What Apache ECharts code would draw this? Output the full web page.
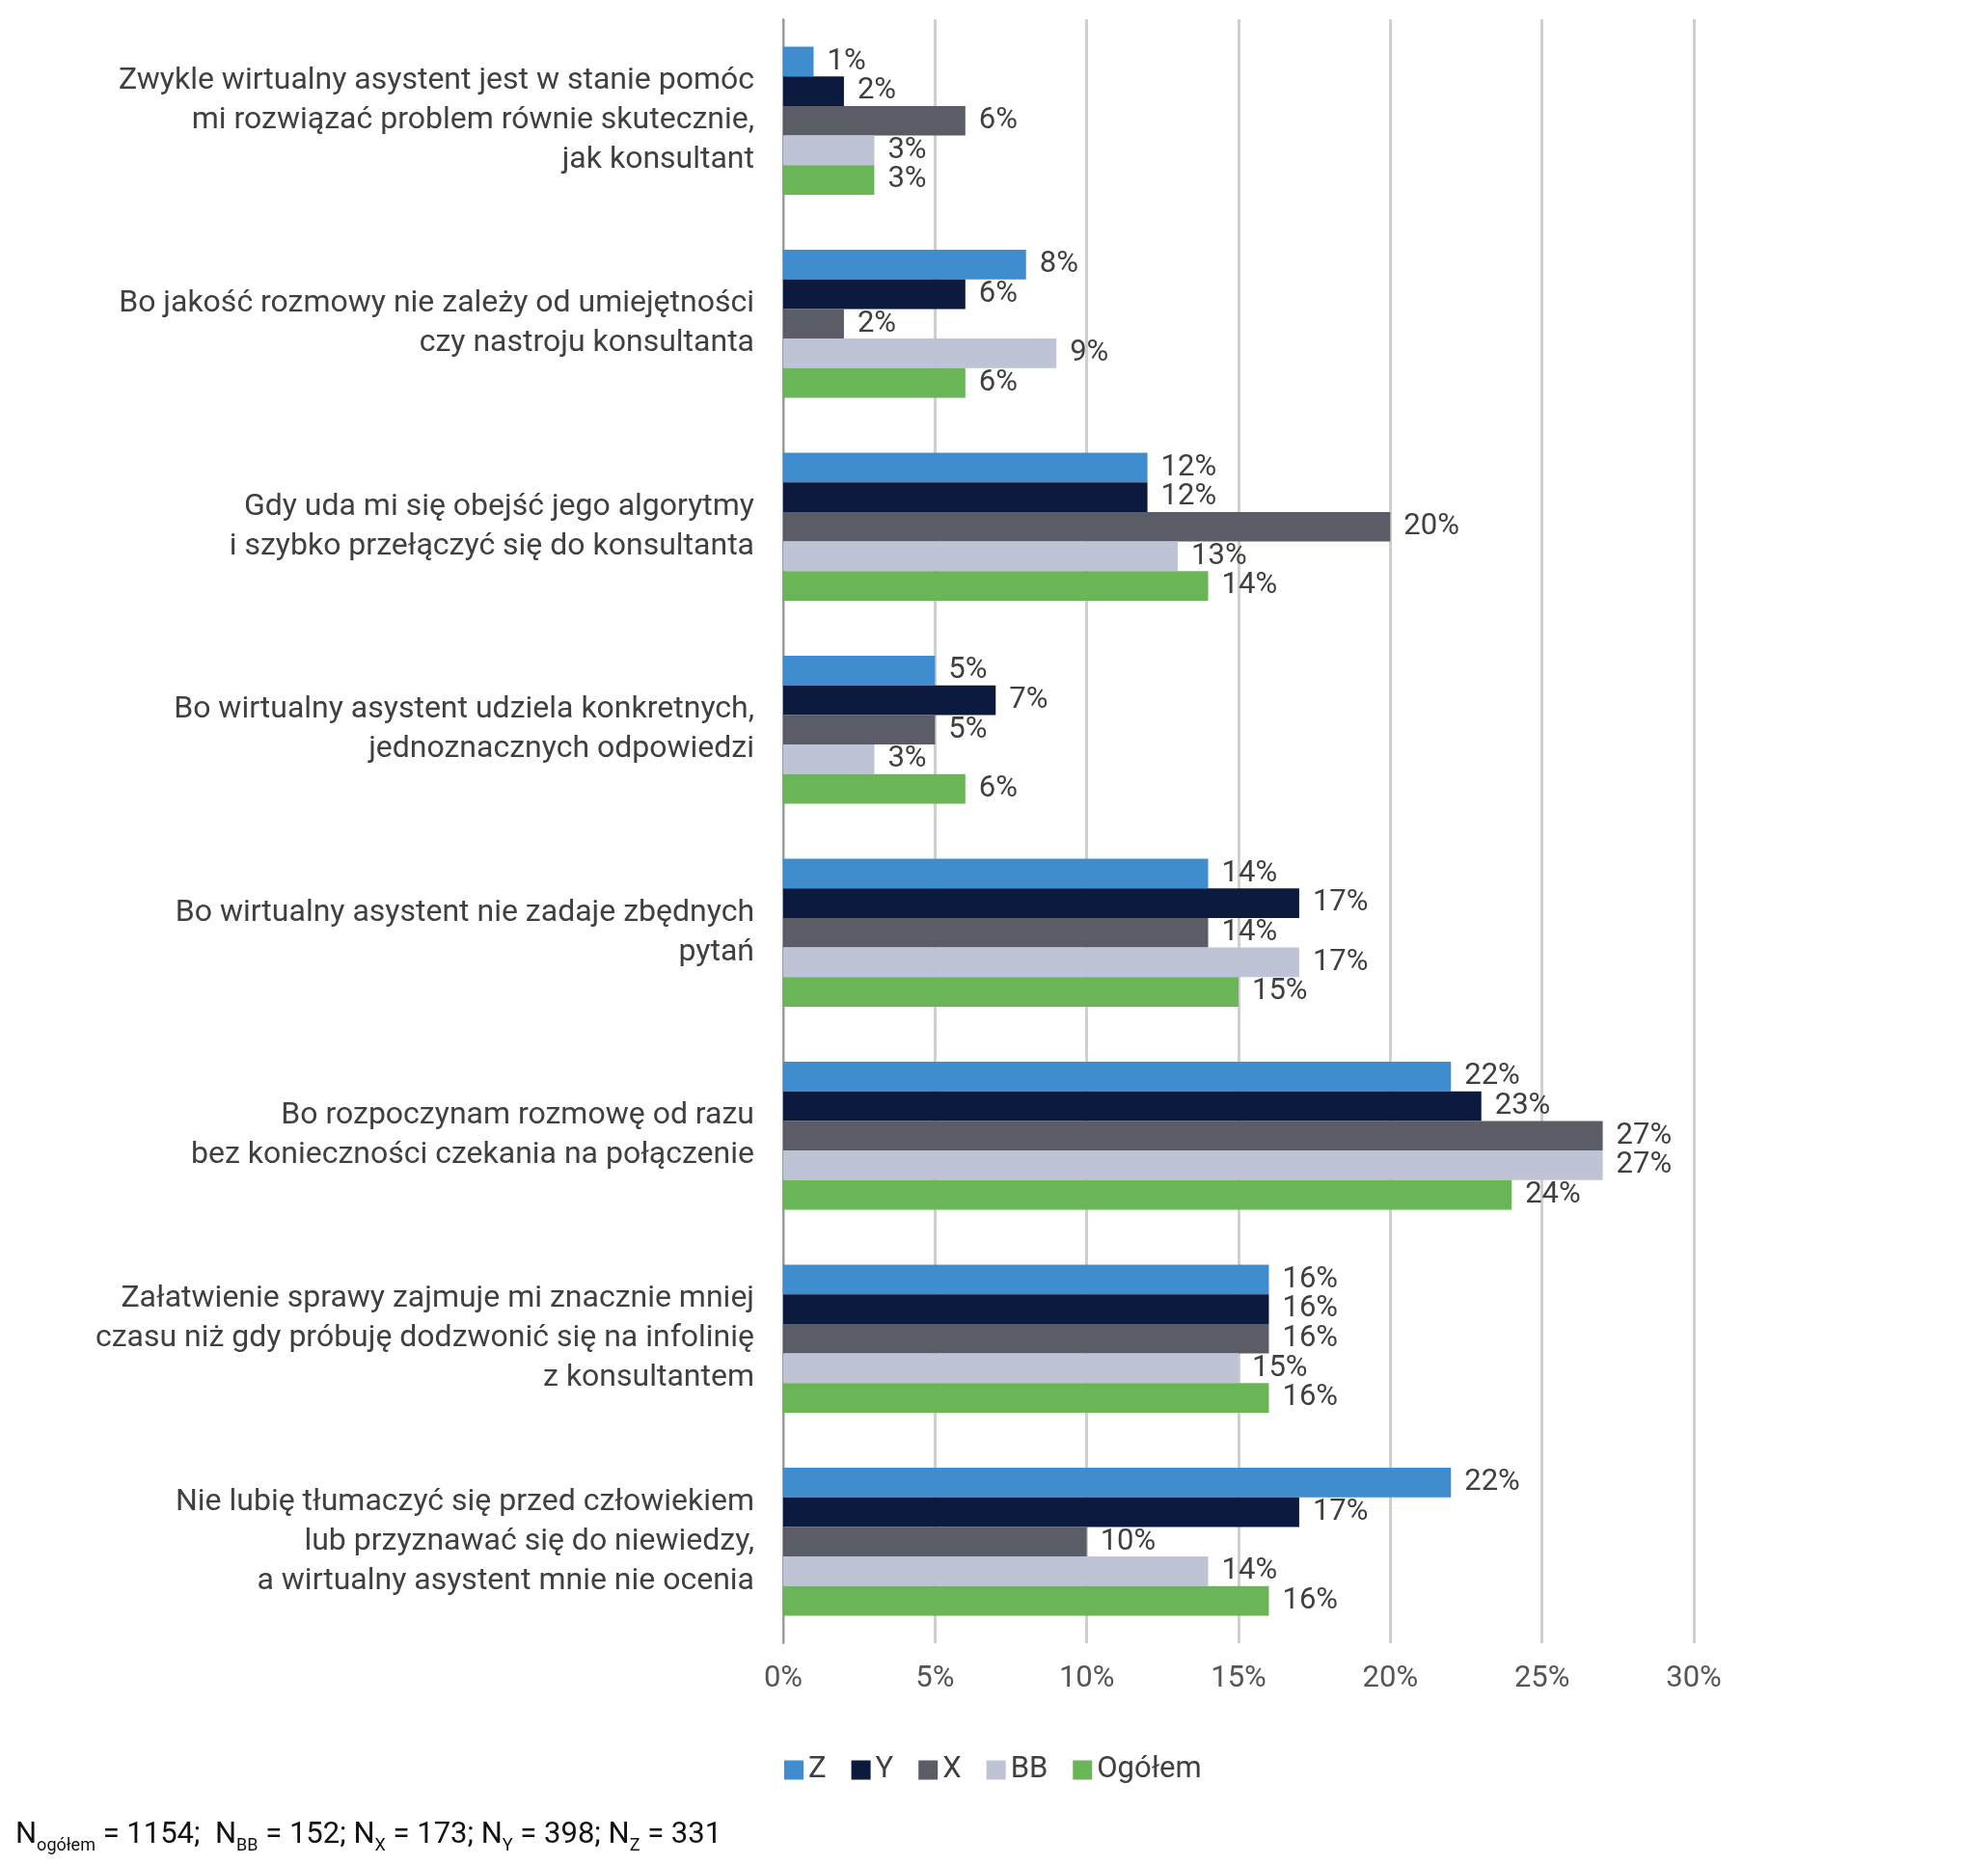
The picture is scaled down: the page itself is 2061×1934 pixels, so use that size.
<!DOCTYPE html>
<html lang="pl">
<head>
<meta charset="UTF-8">
<title>wirtualny asystent</title>
<style>
    html, body { margin: 0; padding: 0; background: #fff; }
    #box { width: 2061px; height: 1934px; }
</style>
<script src="https://cdn.jsdelivr.net/npm/echarts@6/dist/echarts.min.js"></script>
</head>
<body>
<div id="box"></div>
<script>
    const categories = [
        'Zwykle wirtualny asystent jest w stanie pomóc\nmi rozwiązać problem równie skutecznie,\njak konsultant',
        'Bo jakość rozmowy nie zależy od umiejętności\nczy nastroju konsultanta',
        'Gdy uda mi się obejść jego algorytmy\ni szybko przełączyć się do konsultanta',
        'Bo wirtualny asystent udziela konkretnych,\njednoznacznych odpowiedzi',
        'Bo wirtualny asystent nie zadaje zbędnych\npytań',
        'Bo rozpoczynam rozmowę od razu\nbez konieczności czekania na połączenie',
        'Załatwienie sprawy zajmuje mi znacznie mniej\nczasu niż gdy próbuję dodzwonić się na infolinię\nz konsultantem',
        'Nie lubię tłumaczyć się przed człowiekiem\nlub przyznawać się do niewiedzy,\na wirtualny asystent mnie nie ocenia'
    ];
    const seriesNames = ['Z', 'Y', 'X', 'BB', 'Ogółem'];
    const valuesZ = [1, 8, 12, 5, 14, 22, 16, 22];
    const valuesY = [2, 6, 12, 7, 17, 23, 16, 17];
    const valuesX = [6, 2, 20, 5, 14, 27, 16, 10];
    const valuesBB = [3, 9, 13, 3, 17, 27, 15, 14];
    const valuesAll = [3, 6, 14, 6, 15, 24, 16, 16];
    const colors = ['#3f8dce', '#0c1a3d', '#5a5d66', '#bfc3d6', '#6ab555'];

    const allValues = [valuesZ, valuesY, valuesX, valuesBB, valuesAll];
    const font = 'Roboto';

    let myChart = echarts.init(document.getElementById('box'));
    let option = {
        color: colors,
        textStyle: { fontFamily: font },
        grid: { left: 812, right: 305, top: 20, bottom: 230 },
        legend: {
            bottom: 78,
            left: 808,
            itemWidth: 20,
            itemHeight: 20,
            itemGap: 26,
            icon: 'rect',
            textStyle: { fontSize: 31, color: '#404040', fontFamily: font },
            data: seriesNames
        },
        xAxis: {
            type: 'value',
            min: 0,
            max: 30,
            interval: 5,
            axisLabel: { formatter: '{value}%', fontSize: 31, color: '#555', margin: 22 },
            axisLine: { show: false },
            axisTick: { show: false },
            splitLine: { lineStyle: { color: '#cfcfcf', width: 3 } }
        },
        yAxis: {
            type: 'category',
            inverse: true,
            data: categories,
            axisLine: { lineStyle: { color: '#9a9a9a', width: 2 } },
            axisTick: { show: false },
            axisLabel: { fontSize: 32, color: '#404040', lineHeight: 41, margin: 30, align: 'right' }
        },
        series: seriesNames.map(function (name, i) {
            return {
                name: name,
                type: 'bar',
                data: allValues[i],
                barGap: '0%',
                barCategoryGap: '27%',
                label: {
                    show: true,
                    position: 'right',
                    distance: 14,
                    formatter: '{c}%',
                    fontSize: 31,
                    color: '#404040'
                }
            };
        }),
        graphic: [{
            type: 'text',
            left: 16,
            top: 1888,
            style: {
                text: 'N{s|ogółem} = 1154;  N{s|BB} = 152; N{s|X} = 173; N{s|Y} = 398; N{s|Z} = 331',
                fontSize: 31,
                fontFamily: font,
                fill: '#111',
                rich: {
                    s: { fontSize: 18, fontFamily: font, padding: [22, 0, 0, 0], fill: '#111' }
                }
            }
        }]
    };
    myChart.setOption(option);
</script>
</body>
</html>
